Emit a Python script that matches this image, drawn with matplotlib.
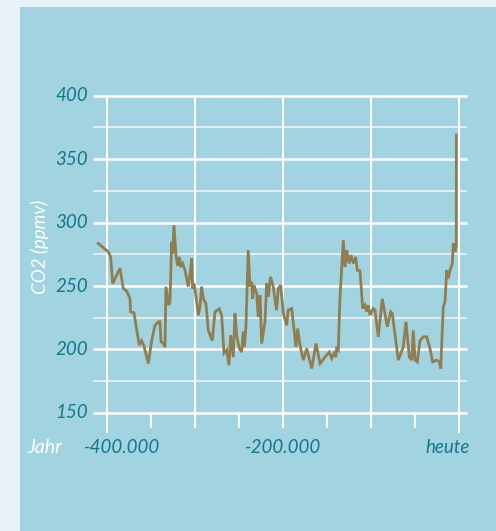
import matplotlib
matplotlib.use("Agg")
import matplotlib.pyplot as plt

plt.rcParams['font.family'] = ['Lato', 'DejaVu Sans']

# time in thousand years (negative = before present), CO2 in ppmv
years_kyr = [-410.3, -398.9, -396.2, -393.9, -385.6, -381.8, -377.9, -374.2, -373.5, -369.7,
             -363.6, -360.9, -358.3, -353.4, -349.5, -345.8, -342.0, -340.1, -338.9, -336.3,
             -334.4, -333.3, -330.2, -328.7, -326.8, -325.6, -324.2, -321.9, -320.0, -318.1,
             -316.5, -314.3, -311.6, -309.7, -307.9, -306.0, -304.0, -302.9, -301.4, -299.1,
             -296.5, -294.6, -292.7, -290.8, -287.8, -285.1, -280.6, -277.5, -272.6, -269.9,
             -267.3, -264.2, -261.6, -259.7, -256.7, -254.8, -252.8, -249.9, -247.2, -245.3,
             -244.2, -242.3, -239.7, -237.7, -235.8, -234.7, -233.2, -230.1, -228.3, -226.3,
             -224.4, -220.7, -218.7, -216.9, -214.3, -211.3, -207.5, -205.5, -202.8, -199.8,
             -196.0, -194.2, -190.3, -185.4, -183.5, -180.8, -177.1, -173.2, -167.5, -162.6,
             -158.1, -152.4, -147.5, -144.8, -142.2, -140.2, -139.1, -137.3, -135.4, -131.6,
             -129.7, -127.7, -125.1, -122.8, -120.2, -117.5, -115.7, -112.6, -109.5, -106.9,
             -105.0, -103.2, -101.2, -97.5, -95.5, -91.8, -87.2, -81.6, -77.7, -75.9,
             -69.0, -63.4, -60.3, -56.5, -53.8, -52.0, -50.0, -47.4, -44.4, -40.6,
             -36.7, -33.0, -29.9, -25.4, -22.4, -20.8, -17.9, -15.9, -14.0, -12.2,
             -10.2, -7.6, -6.5, -4.5, -3.1, -3.0]
co2_ppmv = [283.6, 277.0, 273.0, 252.0, 264.0, 248.0, 246.0, 240.0, 229.7, 229.0,
            203.4, 206.8, 202.6, 189.0, 207.0, 219.0, 221.8, 221.8, 206.0, 205.0,
            202.0, 249.5, 235.0, 237.5, 284.8, 275.7, 298.0, 274.0, 266.0, 273.0,
            265.0, 267.8, 262.5, 256.0, 249.5, 258.6, 271.7, 248.0, 252.0, 241.5,
            227.0, 233.6, 249.5, 240.0, 236.0, 215.0, 207.0, 229.7, 232.0, 227.0,
            197.0, 199.5, 187.6, 211.3, 194.0, 228.4, 211.0, 200.8, 198.0, 214.0,
            202.0, 218.0, 278.3, 249.5, 253.4, 240.0, 250.7, 244.0, 225.7, 242.8,
            204.7, 221.8, 252.0, 241.5, 257.3, 249.5, 231.0, 248.0, 250.7, 228.4,
            219.0, 231.0, 232.3, 202.0, 216.5, 203.4, 191.6, 200.8, 185.0, 204.7,
            189.0, 194.0, 198.0, 193.0, 197.0, 194.0, 200.8, 199.5, 240.0, 286.2,
            265.0, 278.3, 267.8, 274.4, 267.8, 273.0, 262.5, 262.0, 232.3, 235.0,
            229.7, 235.0, 227.0, 232.3, 231.0, 210.0, 240.0, 218.0, 229.7, 228.4,
            191.6, 202.0, 221.8, 194.0, 191.6, 215.0, 191.6, 190.2, 207.0, 210.0,
            210.0, 200.8, 190.2, 191.6, 190.2, 185.0, 233.6, 237.5, 262.5, 256.0,
            262.5, 267.8, 283.6, 277.0, 282.0, 369.0]

y_major = [150, 200, 250, 300, 350, 400]
y_minor = [175, 225, 275, 325, 375]
x_full = [-400, -300, -200, -100, 0]
x_minor = [-350, -250, -150, -50]
x_labels = {-400: "-400.000", -200: "-200.000", 0: "heute"}

TEAL = "#13788a"
LINE = "#917e50"
PANEL = "#a2d3e0"
GRID = "white"

fig = plt.figure(figsize=(4.96, 5.31), dpi=100)
fig.patch.set_facecolor("#eaf2f9")

bg = fig.add_axes([20 / 496, 0, 1 - 20 / 496, 1 - 7 / 531], zorder=-5)
bg.set_facecolor(PANEL)
bg.set_xticks([])
bg.set_yticks([])
for s in bg.spines.values():
    s.set_visible(False)

ax = fig.add_axes([92.7 / 496, 98 / 531, 374 / 496, 337.3 / 531], zorder=1)
ax.set_facecolor("none")
xmin, xmax = -416.6, 8.76
ax.set_xlim(xmin, xmax)
ax.set_ylim(134.2, 400)
for s in ax.spines.values():
    s.set_visible(False)
ax.set_xticks([])
ax.set_yticks([])

ax.hlines(y_minor, xmin, xmax, colors=GRID, lw=1.1, alpha=0.85, zorder=1)
ax.hlines(y_major, xmin, xmax, colors=GRID, lw=1.8, zorder=1, clip_on=False)
for x in x_full:
    low = 134.2 if x in (-400, 0) else 138.0
    ax.vlines(x, low, 400, colors=GRID, lw=1.5, zorder=1, clip_on=False)
ax.vlines(x_minor, 138.0, 150, colors=GRID, lw=1.5, zorder=1)

ax.plot(years_kyr, co2_ppmv, color=LINE, lw=2.0, zorder=3, solid_joinstyle="miter")

FS = 13.5
# y tick labels
ytr = ax.get_yaxis_transform()
for v in y_major:
    ax.text(-0.012, v, str(v), transform=ytr, ha="right", va="center",
            fontsize=FS, style="italic", color=TEAL)

# x labels
ax.text(-383.3, 123, x_labels[-400], ha="center", va="center",
        fontsize=FS, style="italic", color=TEAL, clip_on=False)
ax.text(-200, 123, x_labels[-200], ha="center", va="center",
        fontsize=FS, style="italic", color=TEAL, clip_on=False)
ax.text(12.5, 123, x_labels[0], ha="right", va="center",
        fontsize=FS, style="italic", color=TEAL, clip_on=False)
ax.text(-491.4, 123, "Jahr", ha="left", va="center",
        fontsize=14, style="italic", color="white", clip_on=False)

fig.text(40 / 496, 1 - 247 / 531, "CO2 (ppmv)", rotation=90, ha="center",
         va="center", fontsize=13.5, style="italic", color="white")

fig.savefig("out.png", dpi=100)
